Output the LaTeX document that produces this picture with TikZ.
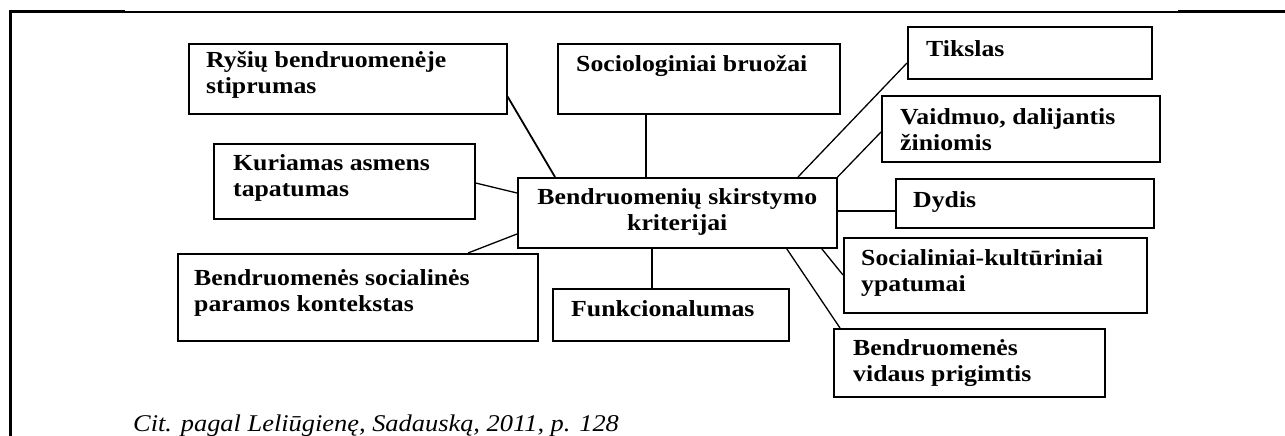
\documentclass[tikz,border=0pt]{standalone}
\usepackage{fontspec}
\usetikzlibrary{calc}
\newfontfamily\critfont{Liberation Serif}[FakeStretch=1.12]
\newfontfamily\citfont{Liberation Serif}[FakeStretch=1.1]
\newcommand{\lines}[2][l]{\begin{tabular}[t]{@{}#1@{}}#2\end{tabular}}

\begin{document}
\begin{tikzpicture}[
  x=1pt, y=-1pt,
  box/.style={draw=black, line width=1.6pt, inner sep=0pt, anchor=north west},
  lbl/.style={anchor=base west, inner sep=0pt, font=\critfont\bfseries\fontsize{23}{26}\selectfont},
  link/.style={line width=1.3pt},
  frame/.style={line width=3pt},
]
  \useasboundingbox (0,0) rectangle (1285,436);

  % page frame
  \draw[frame] (10,436) -- (10,12) -- (125,12);
  \draw[line width=1.3pt] (125,12) -- (1178,12);
  \draw[frame] (1178,12) -- (1285,12);

  % centre
  \node[box, minimum width=319, minimum height=70] (crit) at (517,177) {};
  \node[lbl, anchor=base] (crit-t) at ($(crit.north)+(0,27)$)
    {\lines[c]{Bendruomenių skirstymo\\kriterijai}};

  % left side
  \node[box, minimum width=318, minimum height=70] (rysiu) at (188,43) {};
  \node[lbl] (rysiu-t) at ($(rysiu.north west)+(18,24)$) {\lines{Ryšių bendruomenėje\\stiprumas}};

  \node[box, minimum width=261, minimum height=75] (kuriamas) at (213,143) {};
  \node[lbl] (kuriamas-t) at ($(kuriamas.north west)+(20,27)$) {\lines{Kuriamas asmens\\tapatumas}};

  \node[box, minimum width=360, minimum height=87] (parama) at (177,253) {};
  \node[lbl] (parama-t) at ($(parama.north west)+(17,32)$) {\lines{Bendruomenės socialinės\\paramos kontekstas}};

  % top and bottom
  \node[box, minimum width=282, minimum height=70] (socio) at (557,43) {};
  \node[lbl] (socio-t) at ($(socio.north west)+(19,29)$) {Sociologiniai bruožai};

  \node[box, minimum width=236, minimum height=52] (funkc) at (552,288) {};
  \node[lbl] (funkc-t) at ($(funkc.north west)+(19,28)$) {Funkcionalumas};

  % right side
  \node[box, minimum width=244, minimum height=52] (tikslas) at (907,26) {};
  \node[lbl] (tikslas-t) at ($(tikslas.north west)+(19,31)$) {Tikslas};

  \node[box, minimum width=278, minimum height=66] (vaidmuo) at (881,95) {};
  \node[lbl] (vaidmuo-t) at ($(vaidmuo.north west)+(19,29)$) {\lines{Vaidmuo, dalijantis\\žiniomis}};

  \node[box, minimum width=258, minimum height=49] (dydis) at (895,178) {};
  \node[lbl] (dydis-t) at ($(dydis.north west)+(18,29)$) {Dydis};

  \node[box, minimum width=303, minimum height=75] (social) at (843,237) {};
  \node[lbl] (social-t) at ($(social.north west)+(18,28)$) {\lines{Socialiniai-kultūriniai\\ypatumai}};

  \node[box, minimum width=271, minimum height=68] (vidaus) at (833,328) {};
  \node[lbl] (vidaus-t) at ($(vidaus.north west)+(20,27)$) {\lines{Bendruomenės\\vidaus prigimtis}};

  % connectors
  \draw[link, line width=1.8pt] ($(rysiu.south east)+(0,-18)$) -- ($(crit.north west)+(38,0)$);
  \draw[link] ($(socio.south west)+(89,0)$) -- ($(crit.north west)+(129,0)$);
  \draw[link] ($(kuriamas.north east)+(0,40)$) -- ($(crit.north west)+(0,16)$);
  \draw[link] ($(parama.north west)+(291,0)$) -- ($(crit.north west)+(0,57)$);
  \draw[link, line width=2.8pt] ($(crit.south west)+(135,0)$) -- ($(funkc.north west)+(100,0)$);
  \draw[link] ($(tikslas.north west)+(0,37)$) -- ($(crit.north west)+(281,0)$);
  \draw[link] ($(vaidmuo.north west)+(0,37)$) -- (crit.north east);
  \draw[link] ($(dydis.north west)+(0,33)$) -- ($(crit.north east)+(0,34)$);
  \draw[link] ($(social.north west)+(0,38)$) -- ($(crit.south east)+(-16,0)$);
  \draw[link] ($(vidaus.north west)+(7,0)$) -- ($(crit.south east)+(-51,0)$);

  % source line
  \node[anchor=base west, inner sep=0pt, font=\citfont\itshape\fontsize{24}{28}\selectfont] (cit)
    at (133,431) {Cit. pagal Leliūgienę, Sadauską, 2011, p. 128};
\end{tikzpicture}
\end{document}
